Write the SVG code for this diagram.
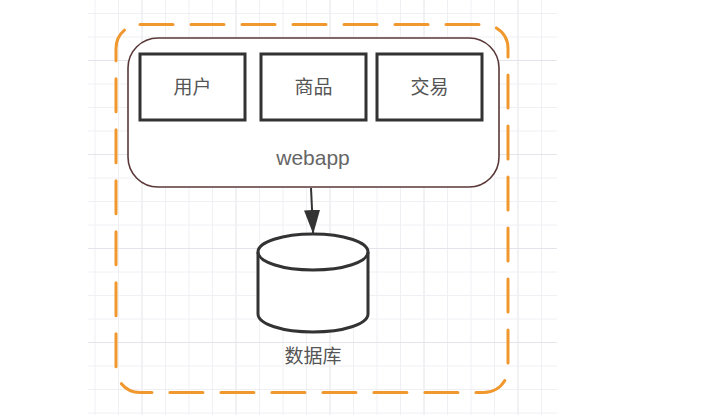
<svg xmlns="http://www.w3.org/2000/svg" width="703" height="415" viewBox="0 0 703 415">
<defs>
<style>
.grid{stroke:#f0f0f4;stroke-width:1}
.gridm{stroke:#e4e4ea;stroke-width:1}
.box{fill:#fff;stroke:#333;stroke-width:3}
.lbl{font-family:"Liberation Sans","Noto Sans CJK SC",sans-serif;font-size:19px;fill:#555;text-anchor:middle}
</style>
<marker id="ah" viewBox="0 0 24 16" refX="24" refY="8" markerWidth="24" markerHeight="16" markerUnits="userSpaceOnUse" orient="auto">
<path d="M0,0 L24,8 L0,16 Z" fill="#333"/>
</marker>
</defs>
<rect width="703" height="415" fill="#fff"/>
<g id="grid">
<path class="grid" d="M95,0V415M118.5,0V415M165.5,0V415M189,0V415M212.5,0V415M259.5,0V415M283,0V415M306.5,0V415M353.5,0V415M377,0V415M400.5,0V415M447.5,0V415M471,0V415M494.5,0V415M541.5,0V415"/>
<path class="gridm" d="M142,0V415M236,0V415M330,0V415M424,0V415M518,0V415"/>
<path class="grid" d="M88,13.5H557M88,37H557M88,84H557M88,107.5H557M88,131H557M88,178H557M88,201.5H557M88,225H557M88,272H557M88,295.5H557M88,319H557M88,366H557M88,389.5H557M88,413H557"/>
<path class="gridm" d="M88,60.5H557M88,154.5H557M88,248.5H557M88,342.5H557"/>
</g>
<g id="boundary">
<rect x="116" y="24.5" width="392" height="368" rx="24" ry="24" fill="none" stroke="#f0982e" stroke-width="3" stroke-dasharray="33 18" stroke-linecap="round"/>
</g>
<g id="webapp">
<rect x="128" y="38" width="371" height="149" rx="30" ry="30" fill="#fff" stroke="#5a3838" stroke-width="1.6"/>
<text class="lbl" x="313" y="165" style="font-size:21px;fill:#666">webapp</text>
</g>
<g id="yonghu">
<rect class="box" x="140" y="54" width="105" height="66"/>
<text class="lbl" x="192.5" y="94">用户</text>
</g>
<g id="shangpin">
<rect class="box" x="261" y="54" width="105" height="66"/>
<text class="lbl" x="313.5" y="94">商品</text>
</g>
<g id="jiaoyi">
<rect class="box" x="377" y="54" width="105" height="66"/>
<text class="lbl" x="429.5" y="94">交易</text>
</g>
<g id="connectors">
<line x1="311" y1="188" x2="313.2" y2="234" stroke="#333" stroke-width="2" marker-end="url(#ah)"/>
</g>
<g id="database">
<path d="M258,252 A55,18 0 0 1 368,252 V314 A55,18 0 0 1 258,314 Z" fill="#fff" stroke="#333" stroke-width="3"/>
<path d="M258,252 A55,18 0 0 0 368,252" fill="none" stroke="#333" stroke-width="3"/>
<text class="lbl" x="313" y="363">数据库</text>
</g>
</svg>
